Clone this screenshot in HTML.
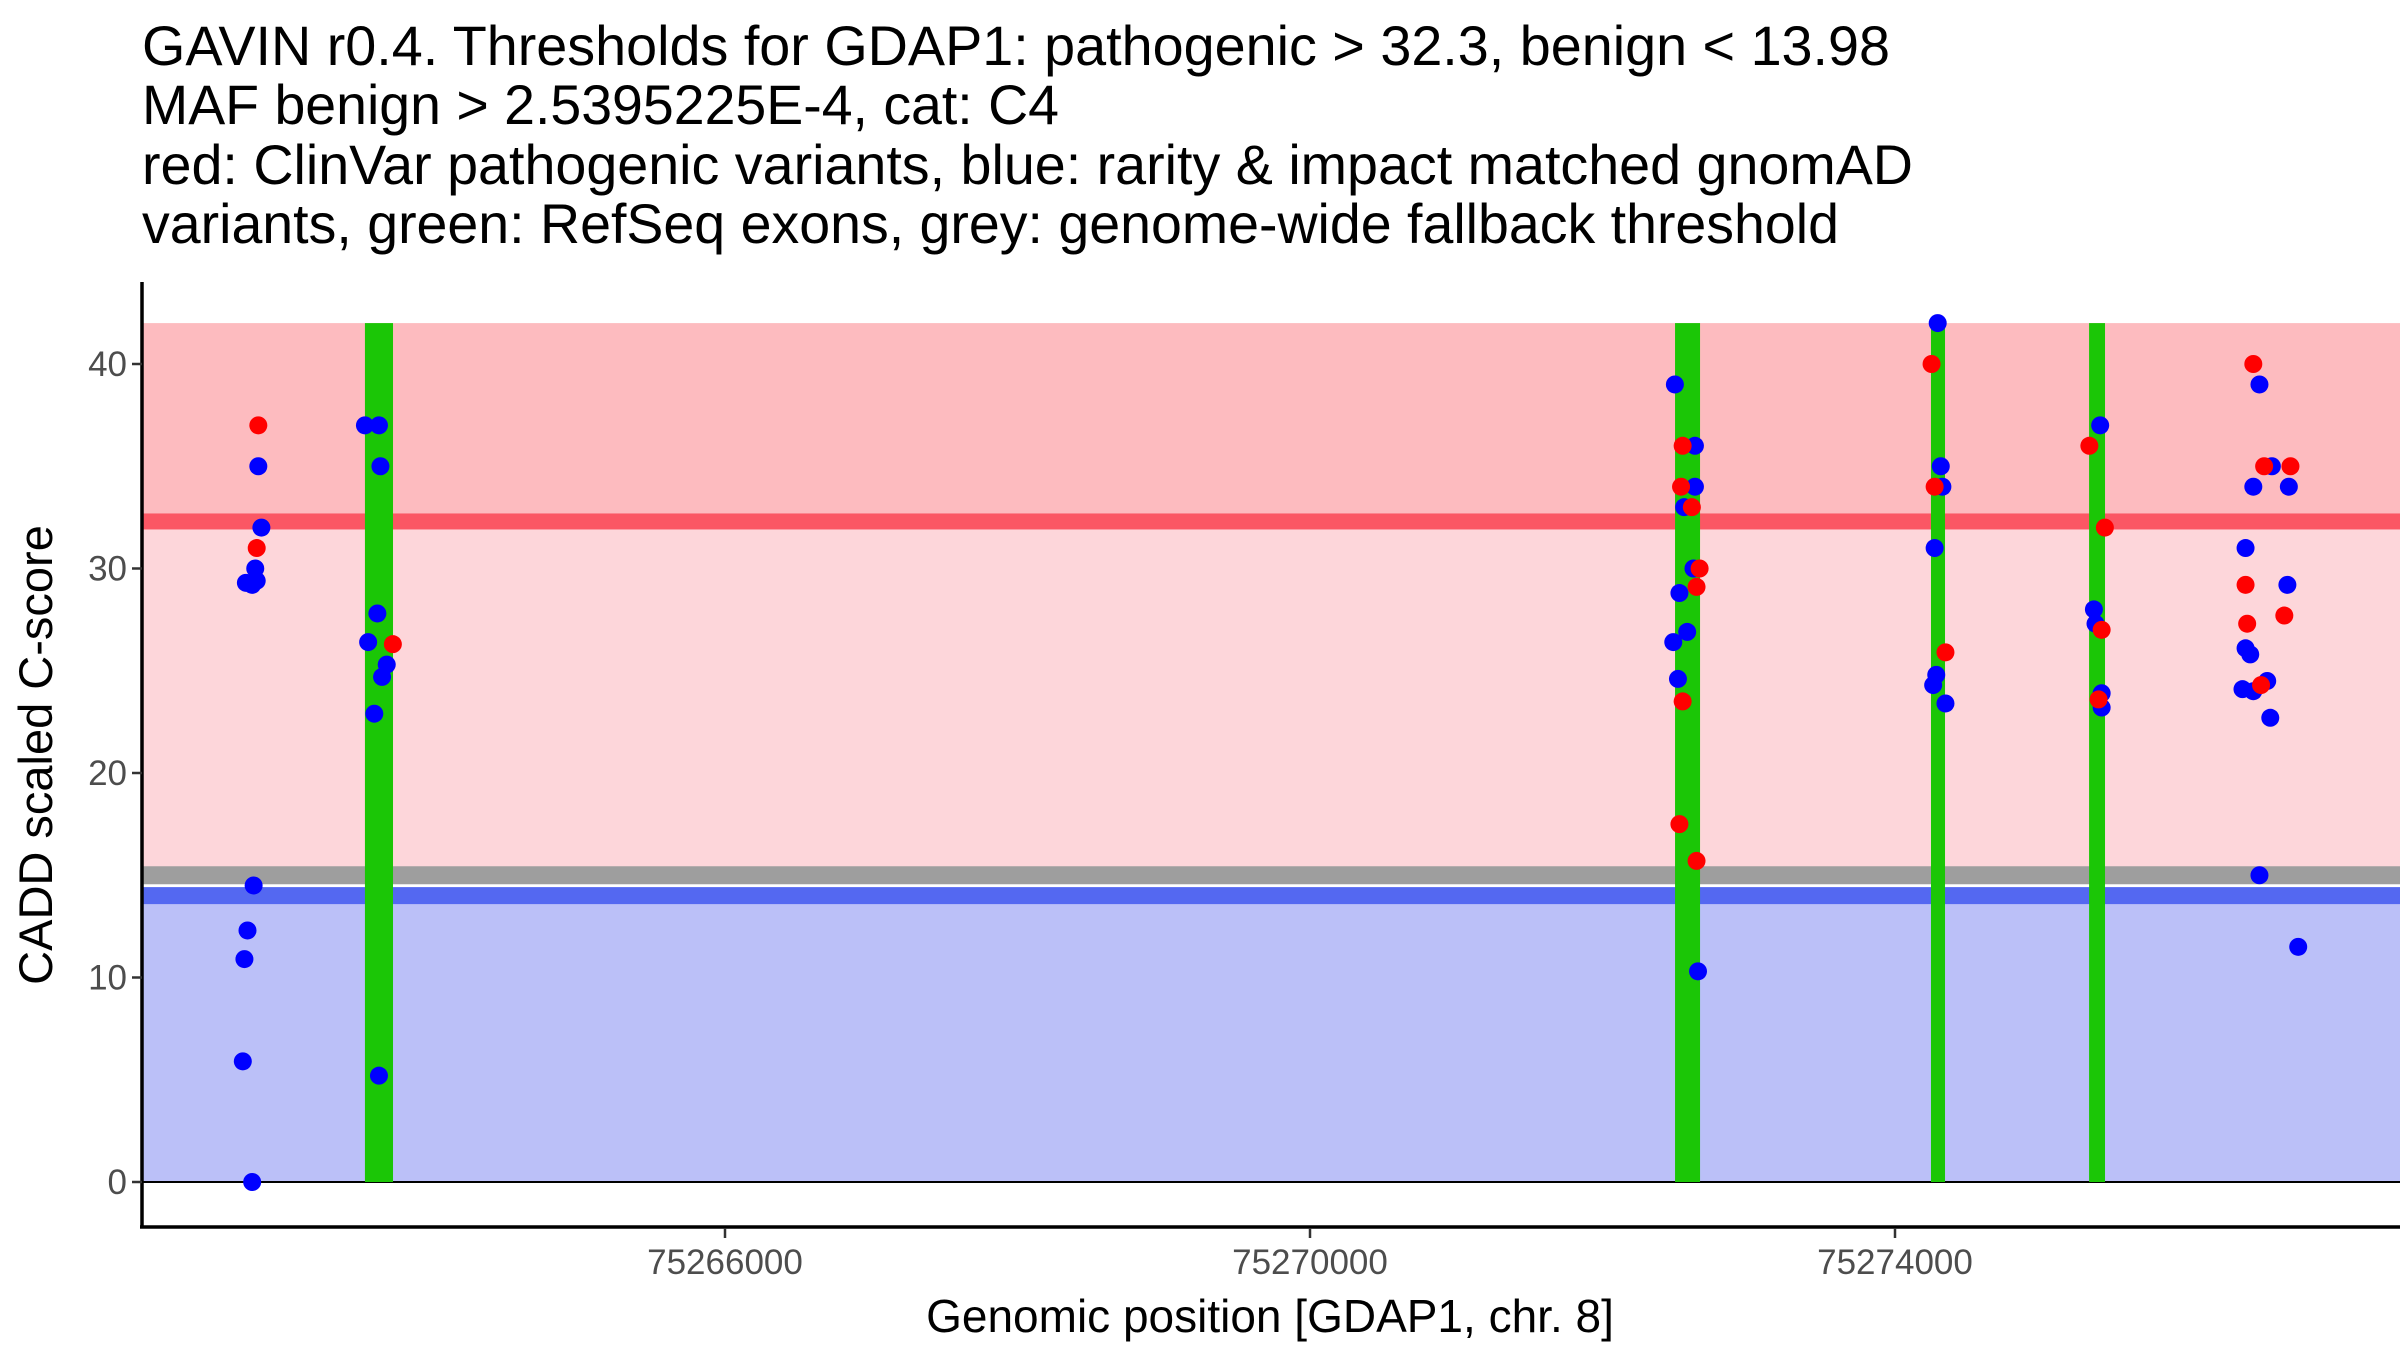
<!DOCTYPE html>
<html><head><meta charset="utf-8"><style>
html,body{margin:0;padding:0;background:#fff;}
svg{display:block;font-family:"Liberation Sans",Arial,sans-serif;}
</style></head><body>
<svg id="chart" width="2400" height="1350" viewBox="0 0 2400 1350" xmlns="http://www.w3.org/2000/svg">
<g font-size="56" fill="#000">
<text x="142" y="65" textLength="1748" lengthAdjust="spacingAndGlyphs">GAVIN r0.4. Thresholds for GDAP1: pathogenic &gt; 32.3, benign &lt; 13.98</text>
<text x="142" y="124" textLength="917" lengthAdjust="spacingAndGlyphs">MAF benign &gt; 2.5395225E-4, cat: C4</text>
<text x="142" y="184" textLength="1771" lengthAdjust="spacingAndGlyphs">red: ClinVar pathogenic variants, blue: rarity &amp; impact matched gnomAD</text>
<text x="142" y="243" textLength="1697" lengthAdjust="spacingAndGlyphs">variants, green: RefSeq exons, grey: genome-wide fallback threshold</text>
</g>
<g id="bands"></g>
<g id="exons"></g>
<g id="points"></g>
<g id="axes"></g>
<text transform="translate(52,755) rotate(-90)" text-anchor="middle" font-size="47" fill="#000">CADD scaled C-score</text>
<text x="1270" y="1332" text-anchor="middle" font-size="46" fill="#000">Genomic position [GDAP1, chr. 8]</text>
</svg>
<script>
const xTicks = [75266000, 75270000, 75274000];
const yTicks = [0, 10, 20, 30, 40];
const thresholds = { pathogenic: 32.3, benign: 13.98, fallback: 15.0, top: 42 };
const exonStarts = [75263538, 75272496, 75274246, 75275327];
const exonEnds = [75263730, 75272667, 75274342, 75275436];
const blueX = [75262809,75262830,75262788,75262798,75262724,75262777,75262735,75262714,75262703,75262767,75262767,
75263538,75263634,75263644,75263623,75263560,75263687,75263655,75263602,75263634,
75272495,75272632,75272632,75272558,75272622,75272526,75272579,75272484,75272516,75272653,
75274292,75274313,75274324,75274271,75274282,75274261,75274345,
75275403,75275360,75275371,75275413,75275413,
75276492,75276577,75276450,75276693,75276397,75276683,75276397,75276429,75276545,75276376,75276450,75276566,75276492,75276757];
const blueY = [35,32,30,29.4,29.3,14.5,12.3,10.9,5.9,0,29.2,
37,37,35,27.8,26.4,25.3,24.7,22.9,5.2,
39,36,34,33,30,28.8,26.9,26.4,24.6,10.3,
42,35,34,31,24.8,24.3,23.4,
37,28,27.3,23.9,23.2,
39,35,34,34,31,29.2,26.1,25.8,24.5,24.1,24.0,22.7,15,11.5];
const redX = [75262809,75262798,75263729,
75272548,75272537,75272611,75272664,75272643,75272548,75272526,75272643,
75274250,75274271,75274345,
75275329,75275435,75275392,75275413,
75276450,75276524,75276704,75276397,75276408,75276662,75276503];
const redY = [37,31,26.3,
36,34,33,30,29.1,23.5,17.5,15.7,
40,34,25.9,
36,32,23.6,27,
40,35,35,29.2,27.3,27.7,24.3];

const X0 = 142, X1 = 2400, Y0 = 1182, PXU = 20.45;
const xScale = v => 725 + (v - 75266000) * 0.14625;
const yScale = v => Y0 - v * PXU;
const NS = 'http://www.w3.org/2000/svg';
function mk(tag, parent, attrs) { const e = document.createElementNS(NS, tag); for (const k in attrs) e.setAttribute(k, attrs[k]); parent.appendChild(e); return e; }

const bands = document.getElementById('bands');
let r;
r = mk('rect', bands, {x: X0, y: yScale(thresholds.top), width: X1 - X0, height: yScale(thresholds.pathogenic) - yScale(thresholds.top), fill: '#fdbbbf'});


r = mk('rect', bands, {x: X0, y: yScale(thresholds.pathogenic), width: X1 - X0, height: yScale(thresholds.fallback) - yScale(thresholds.pathogenic), fill: '#fdd6da'});


r = mk('rect', bands, {x: X0, y: yScale(thresholds.benign), width: X1 - X0, height: yScale(0) - yScale(thresholds.benign), fill: '#bbc0f8'});


r = mk('rect', bands, {x: X0, y: yScale(thresholds.pathogenic) - 8, width: X1 - X0, height: 16, fill: '#fb5764'});


r = mk('rect', bands, {x: X0, y: yScale(thresholds.fallback) - 9, width: X1 - X0, height: 18, fill: '#9e9e9e'});


r = mk('rect', bands, {x: X0, y: yScale(thresholds.benign) - 9, width: X1 - X0, height: 17, fill: '#5468f1'});


r = mk('line', bands, {x1: X0, x2: X1, y1: yScale(0), y2: yScale(0), stroke: '#000', 'stroke-width': 2});



const exons = document.getElementById('exons');
exonStarts.forEach((s, i) => {
  const e = mk('rect', exons, {x: xScale(s), y: yScale(thresholds.top), width: xScale(exonEnds[i]) - xScale(s), height: yScale(0) - yScale(thresholds.top), fill: '#1bc606'});
  
  
});

const pts = document.getElementById('points');
blueX.forEach((v, i) => {
  const c = mk('circle', pts, {cx: xScale(v), cy: yScale(blueY[i]), r: 9, fill: '#0000ff'});
  
  
});
redX.forEach((v, i) => {
  const c = mk('circle', pts, {cx: xScale(v), cy: yScale(redY[i]), r: 9, fill: '#ff0000'});
  
  
});

const axes = document.getElementById('axes');
let a = mk('line', axes, {x1: X0, x2: X0, y1: 282, y2: 1228, stroke: '#000', 'stroke-width': 3.5});


a = mk('line', axes, {x1: X0 - 2, x2: X1, y1: 1227, y2: 1227, stroke: '#000', 'stroke-width': 3.5});


yTicks.forEach(t => {
  const l = mk('line', axes, {x1: X0 - 10, x2: X0, y1: yScale(t), y2: yScale(t), stroke: '#333', 'stroke-width': 2.5});
  
  
  const tx = mk('text', axes, {x: X0 - 15, y: yScale(t) + 12, 'text-anchor': 'end', 'font-size': 35, fill: '#4d4d4d'});
  tx.textContent = t;
  
  
});
xTicks.forEach(t => {
  const l = mk('line', axes, {x1: xScale(t), x2: xScale(t), y1: 1228, y2: 1238, stroke: '#333', 'stroke-width': 2.5});
  
  
  const tx = mk('text', axes, {x: xScale(t), y: 1274, 'text-anchor': 'middle', 'font-size': 35, fill: '#4d4d4d'});
  tx.textContent = t;
  
  
});
</script>
</body></html>
